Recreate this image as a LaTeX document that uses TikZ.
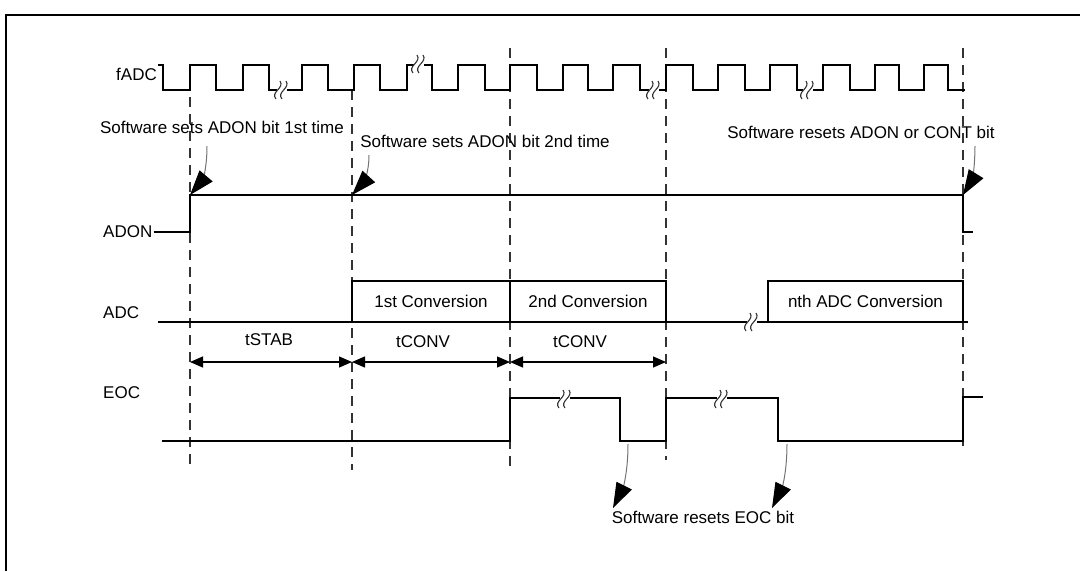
\documentclass[tikz,border=0pt]{standalone}
\usepackage{fontspec}
\setmainfont{Liberation Sans}
\usetikzlibrary{arrows.meta,positioning}

\begin{document}
\begin{tikzpicture}[x=1pt,y=-1pt,font=\fontsize{17}{20}\selectfont,
  sig/.style={line width=1.3pt},
  guide/.style={line width=1.1pt,black!80,dash pattern=on 10pt off 7pt},
  sname/.style={anchor=west,inner sep=1pt},
  conv/.style={draw,line width=1.3pt,minimum height=41pt,inner sep=0pt},
  dimarr/.style={{Triangle[length=13pt,width=11pt]}-{Triangle[length=13pt,width=11pt]},line width=1.3pt},
  note/.style={-{Triangle[length=25pt,width=17pt,color=black]},black!55,line width=1pt},
  brk/.pic={\fill[white] (-5,-2) rectangle (5,2);
    \draw[line width=1.1pt,black!80] (-6,9) .. controls (-12,2) and (3,-2) .. (-2,-9);
    \draw[line width=1.1pt,black!80] (0,9) .. controls (-6,2) and (9,-2) .. (4,-9);}]
\useasboundingbox (0,0) rectangle (1080,571);
\draw[line width=1.3pt] (1080,15) -- (6,15) -- (6,571);

% event lines
\draw[guide] (190,97) -- (190,470);
\draw[guide] (352,90) -- (352,470);
\draw[guide] (510,48) -- (510,470);
\draw[guide] (666,48) -- (666,460);
\draw[guide] (963,48) -- (963,446);

% signal names
\node[anchor=east,inner sep=1pt] (fadc) at (158,74) {fADC};
\node[sname] (adon) at (102,232) {ADON};
\node[sname] (adc) at (102,313) {ADC};
\node[sname] (eoc) at (102,393) {EOC};

% fADC clock
\draw[sig] (fadc.north east |- 0,65) foreach \x [count=\i,
    evaluate=\i as \ya using {65+25*mod(\i+1,2)},
    evaluate=\i as \yb using {90-25*mod(\i+1,2)}] in
  {163,190,216,243,269,302,328,354,380,407,432,458,485,510,537,563,588,613,640,
   666,693,718,745,770,797,823,850,875,899,924,948}
  { -- (\x,\ya) -- (\x,\yb) } -- (965,90);

% ADON
\draw[sig] (adon.east) -- (190,232) -- (190,195) -- (963,195) -- (963,232) -- (973,232);

% ADC
\draw[sig] (158,322) -- (968,322);
\node[conv,minimum width=158pt] (c1) at (431,301.5) {1st Conversion};
\node[conv,minimum width=156pt] (c2) at (588,301.5) {2nd Conversion};
\node[conv,minimum width=195pt] (cn) at (865.5,301.5) {nth ADC Conversion};

% EOC
\draw[sig] (162,441) -- (510,441) -- (510,398) -- (620,398) -- (620,441) -- (666,441)
  -- (666,398) -- (778,398) -- (778,441) -- (963,441) -- (963,397) -- (983,397);

% breaks
\pic at (282,90) {brk};
\pic at (419,64) {brk};
\pic at (654,90) {brk};
\pic at (808,90) {brk};
\pic at (752,322) {brk};
\pic at (565,399) {brk};
\pic at (722,399) {brk};

% durations
\node (tstab) at (269,340) {tSTAB};
\node (tc1) at (423,342) {tCONV};
\node (tc2) at (580,342) {tCONV};
\draw[dimarr] (190,362) -- (352,362);
\draw[dimarr] (352,362) -- (510,362);
\draw[dimarr] (510,362) -- (666,362);

% notes
\node (n1) at (222,127) {Software sets ADON bit 1st time};
\node (n2) at (485,141) {Software sets ADON bit 2nd time};
\node (n3) at (861,132) {Software resets ADON or CONT bit};
\node (n4) at (703,517) {Software resets EOC bit};
\coordinate (s1) at (207,146); \coordinate (e1) at (190,195);
\coordinate (s2) at (369,155); \coordinate (e2) at (352,195);
\coordinate (s3) at (975,146); \coordinate (e3) at (963,195);
\coordinate (s4) at (628,444); \coordinate (e4) at (613,508);
\coordinate (s5) at (787,444); \coordinate (e5) at (772,508);
\draw[note] (s1) .. controls (207,172) and (201,182) .. (e1);
\draw[note] (s2) .. controls (369,175) and (362,184) .. (e2);
\draw[note] (s3) .. controls (975,170) and (971,182) .. (e3);
\draw[note] (s4) .. controls (628,475) and (622,490) .. (e4);
\draw[note] (s5) .. controls (787,475) and (781,490) .. (e5);
\end{tikzpicture}
\end{document}
